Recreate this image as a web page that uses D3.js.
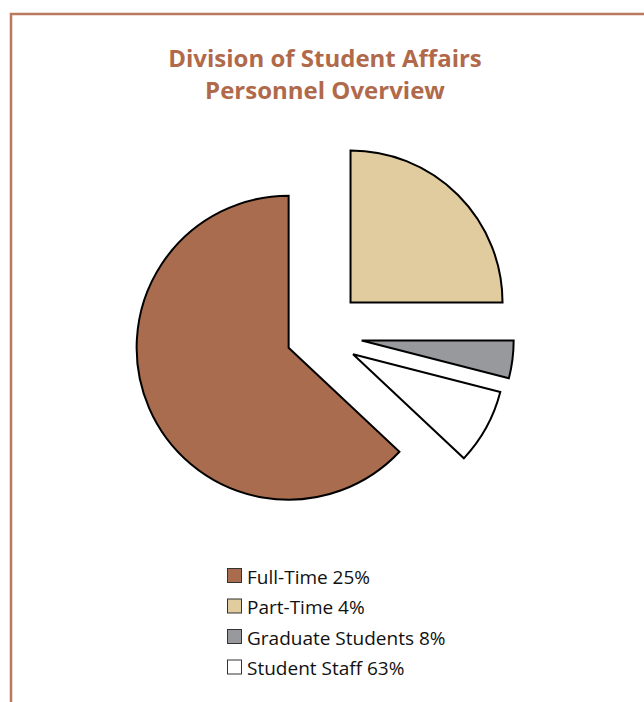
<!DOCTYPE html>
<html>
<head>
<meta charset="utf-8">
<script src="https://cdn.jsdelivr.net/npm/d3@7"></script>
<style>
  body { margin: 0; background: #fff; }
  svg { display: block; }
</style>
</head>
<body>
<svg width="644" height="702"></svg>
<script>
// Chart data
const categories = ['Full-Time', 'Part-Time', 'Graduate Students', 'Student Staff'];
const legendPct  = [25, 4, 8, 63];           // as printed in the legend
const sliceOrder = ['Part-Time', 'Graduate Students', 'Student Staff', 'Full-Time'];
const sliceValues = [25, 4, 8, 63];          // drawn clockwise from 12 o'clock
const colors = ['#a96c4e', '#e0cc9e', '#98999d', '#ffffff'];

const svg = d3.select('svg');
const width  = +svg.attr('width');
const height = +svg.attr('height');

// frame
svg.append('path')
    .attr('d', `M11,${height} L11,14 L${width},14`)
    .attr('fill', 'none')
    .attr('stroke', '#b97a5e')
    .attr('stroke-width', 2.5);

// title
const title = svg.append('text')
    .attr('text-anchor', 'middle')
    .attr('fill', '#b0694a')
    .style('font-family', '"Open Sans", sans-serif')
    .style('font-weight', 700)
    .style('font-size', '24px');
title.append('tspan').attr('x', 325).attr('y', 67).text('Division of Student Affairs');
title.append('tspan').attr('x', 325).attr('y', 99).text('Personnel Overview');

// pie
const cx = 318, cy = 335, radius = 152;
const explode = { 'Part-Time': 46, 'Graduate Students': 44, 'Student Staff': 40, 'Full-Time': 32 };
const color = d3.scaleOrdinal().domain(categories).range(colors);

const pie = d3.pie().sort(null).value(d => d.value);
const arc = d3.arc().innerRadius(0).outerRadius(radius);
const slices = pie(sliceOrder.map((k, i) => ({ key: k, value: sliceValues[i] })));

svg.append('g')
    .attr('transform', `translate(${cx},${cy})`)
  .selectAll('path').data(slices)
  .enter().append('path')
    .attr('d', arc)
    .attr('transform', d => {
      const a = (d.startAngle + d.endAngle) / 2;
      const r = explode[d.data.key];
      return `translate(${r * Math.sin(a)},${-r * Math.cos(a)})`;
    })
    .attr('fill', d => color(d.data.key))
    .attr('stroke', '#000')
    .attr('stroke-width', 2)
    .attr('stroke-linejoin', 'miter');

// legend
const legend = svg.append('g').attr('transform', 'translate(227,568)');
const rows = legend.selectAll('g').data(categories)
  .enter().append('g')
    .attr('transform', (d, i) => `translate(0,${i * 30.5})`);
rows.append('rect')
    .attr('x', 0.5).attr('y', 0.5)
    .attr('width', 14).attr('height', 14)
    .attr('fill', d => color(d))
    .attr('stroke', '#333')
    .attr('stroke-width', 1);
rows.append('text')
    .attr('x', 20).attr('y', 15.5)
    .attr('fill', '#111')
    .style('font-family', '"Open Sans", sans-serif')
    .style('font-size', '19px')
    .text((d, i) => `${d} ${legendPct[i]}%`);
</script>
</body>
</html>
